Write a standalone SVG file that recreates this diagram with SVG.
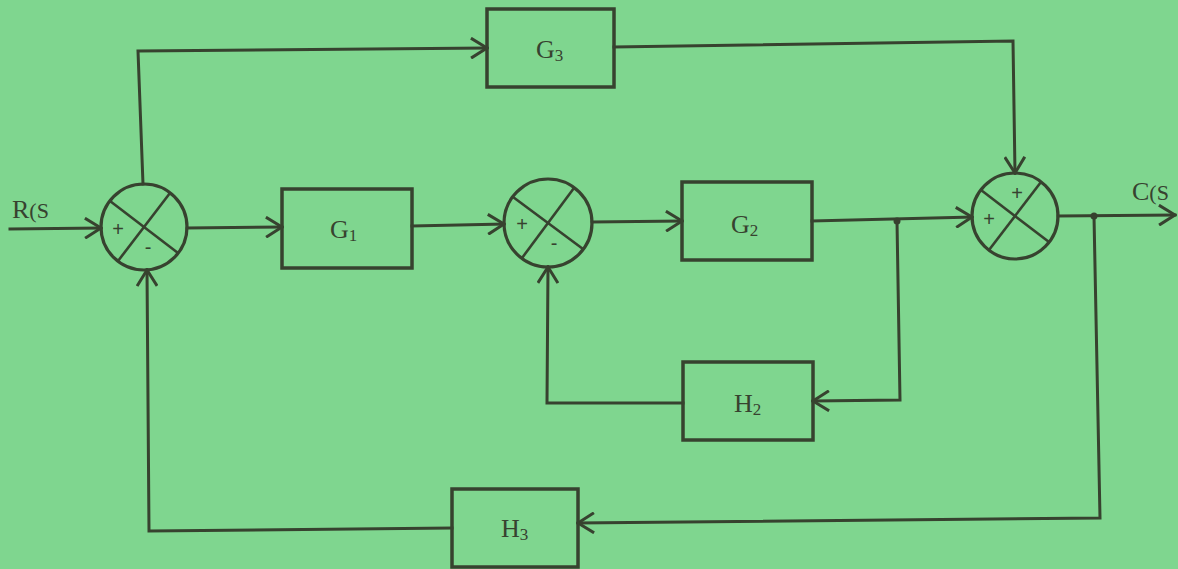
<svg xmlns="http://www.w3.org/2000/svg" width="1178" height="569" viewBox="0 0 1178 569">
<style>
.ln{fill:none;stroke:#37422f;stroke-width:3;stroke-linejoin:miter;stroke-linecap:square}
.box{fill:none;stroke:#37422f;stroke-width:3.5}
.sum{fill:none;stroke:#37422f;stroke-width:3.2}
.x{stroke:#37422f;stroke-width:2.6}
.t{font-family:"Liberation Serif","Times New Roman",serif;fill:#37422f;font-size:26px}
.sg{font-family:"Liberation Sans",Arial,sans-serif;fill:#37422f;font-size:20px}
</style>
<defs>
<marker id="arr" viewBox="0 0 20 22" refX="18" refY="11" markerWidth="20" markerHeight="22" markerUnits="userSpaceOnUse" orient="auto">
<path d="M2,1 L18,11 L2,21" fill="none" stroke="#37422f" stroke-width="3"/>
</marker>
</defs>
<rect x="0" y="0" width="1178" height="569" fill="#7fd68f"/>

<g id="connectors">
<polyline class="ln" points="10,229 101,228" marker-end="url(#arr)"/>
<polyline class="ln" points="187,228 282,227" marker-end="url(#arr)"/>
<polyline class="ln" points="143,184 138,51 487,48" marker-end="url(#arr)"/>
<polyline class="ln" points="614,47 1013,41 1015,173" marker-end="url(#arr)"/>
<polyline class="ln" points="412,226 504,224" marker-end="url(#arr)"/>
<polyline class="ln" points="592,222 682,221" marker-end="url(#arr)"/>
<polyline class="ln" points="812,221 972,217" marker-end="url(#arr)"/>
<polyline class="ln" points="897,221 900,400 813,401" marker-end="url(#arr)"/>
<polyline class="ln" points="683,403 547,403 548,267" marker-end="url(#arr)"/>
<polyline class="ln" points="1058,216 1175,215" marker-end="url(#arr)"/>
<polyline class="ln" points="1094,216 1100,518 578,523" marker-end="url(#arr)"/>
<polyline class="ln" points="452,528 149,531 147,270" marker-end="url(#arr)"/>
<circle cx="897" cy="221" r="3.5" fill="#37422f"/>
<circle cx="1094" cy="216" r="3.5" fill="#37422f"/>
</g>

<g id="input-label">
<text class="t" x="12" y="218" font-size="25">R<tspan font-size="22">(S</tspan></text>
</g>
<g id="output-label">
<text class="t" x="1132" y="200" font-size="25">C<tspan font-size="22">(S</tspan></text>
</g>

<g id="sum1">
<circle class="sum" cx="144" cy="227" r="43"/>
<line class="x" x1="110" y1="201" x2="178" y2="253"/>
<line class="x" x1="118" y1="261" x2="170" y2="193"/>
<text class="sg" x="118" y="236" text-anchor="middle">+</text>
<text class="sg" x="148" y="254" text-anchor="middle">-</text>
</g>

<g id="G1">
<rect class="box" x="282" y="189" width="130" height="79"/>
<text class="t" x="330" y="238">G<tspan font-size="17" dy="3">1</tspan></text>
</g>

<g id="sum2">
<circle class="sum" cx="548" cy="223" r="44"/>
<line class="x" x1="513" y1="197" x2="583" y2="249"/>
<line class="x" x1="522" y1="258" x2="574" y2="188"/>
<text class="sg" x="522" y="231" text-anchor="middle">+</text>
<text class="sg" x="554" y="250" text-anchor="middle">-</text>
</g>

<g id="G2">
<rect class="box" x="682" y="182" width="130" height="78"/>
<text class="t" x="731" y="233">G<tspan font-size="17" dy="3">2</tspan></text>
</g>

<g id="G3">
<rect class="box" x="487" y="9" width="127" height="78"/>
<text class="t" x="536" y="58">G<tspan font-size="17" dy="3">3</tspan></text>
</g>

<g id="sum3">
<circle class="sum" cx="1015" cy="216" r="43"/>
<line class="x" x1="981" y1="190" x2="1049" y2="242"/>
<line class="x" x1="989" y1="250" x2="1041" y2="182"/>
<text class="sg" x="1017" y="200" text-anchor="middle">+</text>
<text class="sg" x="989" y="226" text-anchor="middle">+</text>
</g>

<g id="H2">
<rect class="box" x="683" y="362" width="130" height="78"/>
<text class="t" x="734" y="412">H<tspan font-size="17" dy="3">2</tspan></text>
</g>

<g id="H3">
<rect class="box" x="452" y="489" width="126" height="78"/>
<text class="t" x="501" y="537">H<tspan font-size="17" dy="3">3</tspan></text>
</g>
</svg>
